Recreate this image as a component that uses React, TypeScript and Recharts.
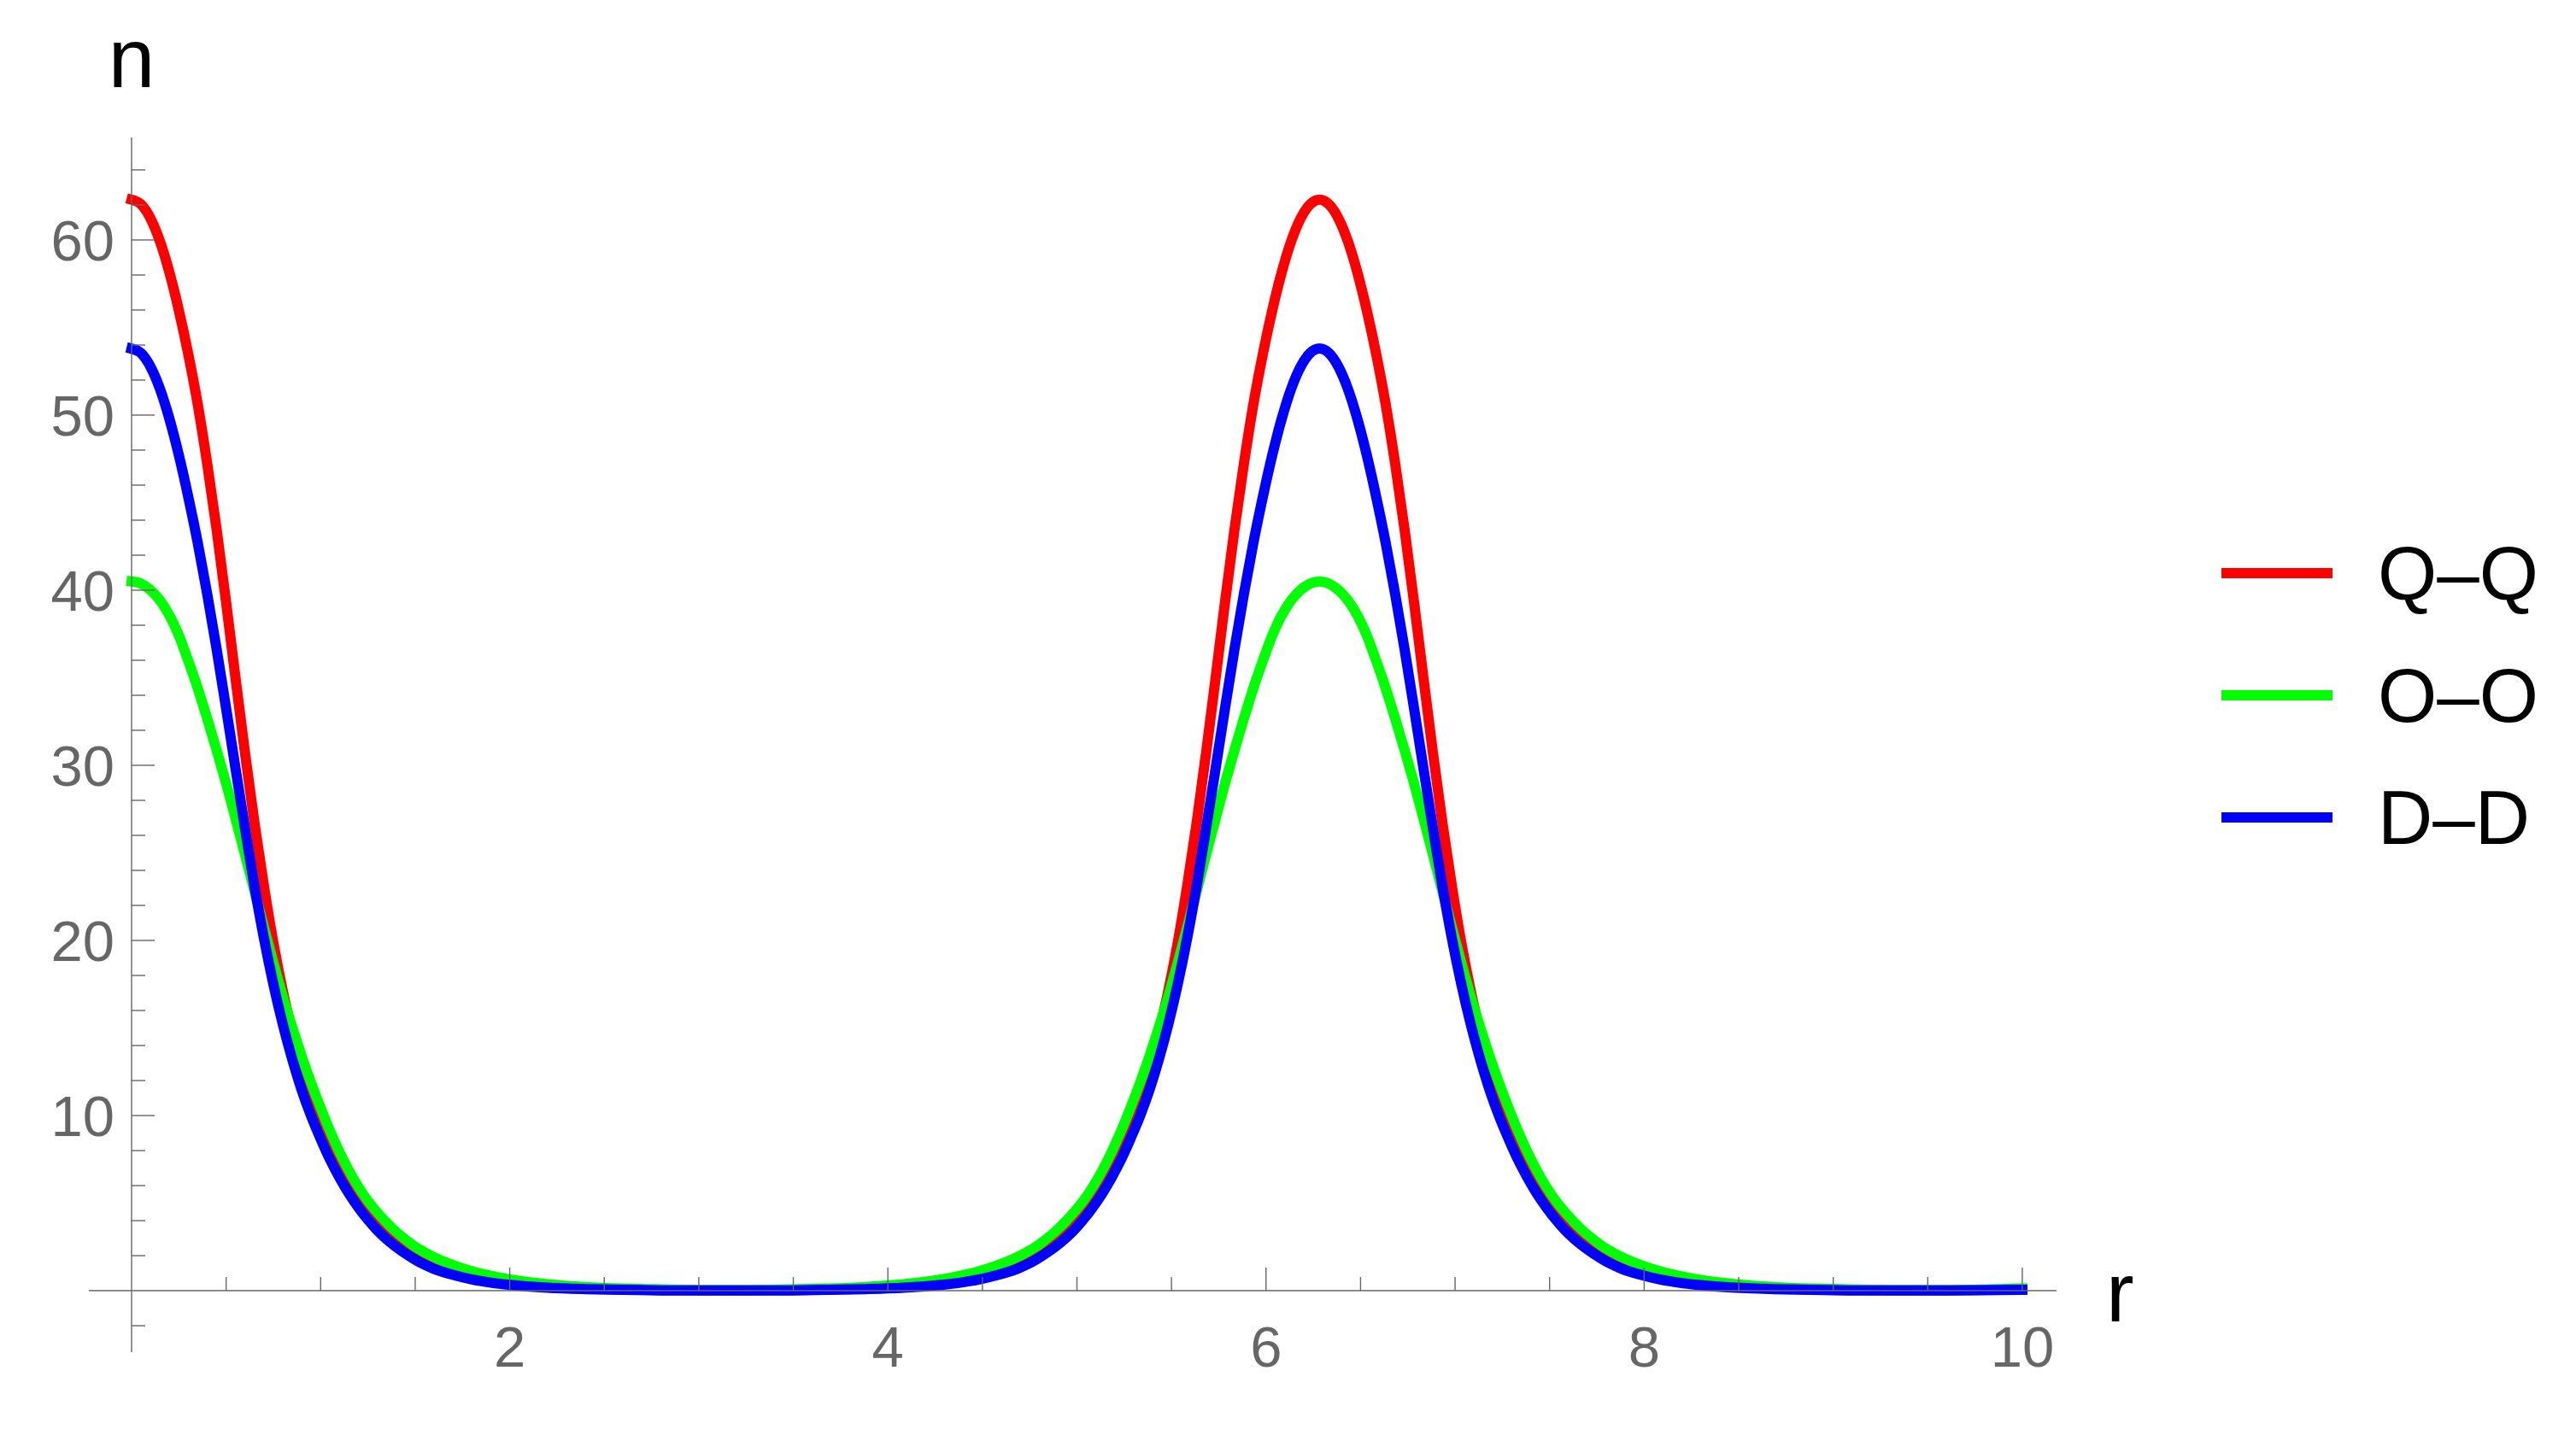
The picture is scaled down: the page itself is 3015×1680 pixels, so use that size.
import React from 'react';
import { LineChart, Line, XAxis, YAxis, ReferenceLine, Legend } from 'recharts';

// ---------- data ----------
const rValues = [
  0, 0.05, 0.1, 0.15, 0.2, 0.25, 0.3, 0.35, 0.4, 0.45, 0.5, 0.55, 0.6, 0.65, 0.7, 0.75, 0.8, 0.85, 0.9, 0.95, 1.0,
  1.05, 1.1, 1.15, 1.2, 1.25, 1.3, 1.35, 1.4, 1.45, 1.5, 1.55, 1.6, 1.7, 1.8, 1.9, 2.0, 2.2, 2.4, 2.6, 2.8, 3.0, 3.142,
  3.283, 3.483, 3.683, 3.883, 4.083, 4.283, 4.383, 4.483, 4.583, 4.683, 4.733, 4.783, 4.833, 4.883, 4.933, 4.983,
  5.033, 5.083, 5.133, 5.183, 5.233, 5.283, 5.333, 5.383, 5.433, 5.483, 5.533, 5.583, 5.633, 5.683, 5.733, 5.783,
  5.833, 5.883, 5.933, 5.983, 6.033, 6.083, 6.133, 6.183, 6.233, 6.283,
  6.333, 6.383, 6.433, 6.483, 6.533, 6.583, 6.633, 6.683, 6.733, 6.783, 6.833, 6.883, 6.933, 6.983, 7.033, 7.083,
  7.133, 7.183, 7.233, 7.283, 7.333, 7.383, 7.433, 7.483, 7.533, 7.583, 7.633, 7.683, 7.733, 7.783, 7.833, 7.883,
  7.983, 8.083, 8.183, 8.283, 8.483, 8.683, 8.883, 9.083, 9.283, 9.425, 9.6, 10.0,
];

const qqValues = [
  62.3, 62.03, 61.23, 59.92, 58.15, 55.98, 53.47, 50.61, 47.22, 43.45, 39.3, 34.95, 30.7, 26.7, 23.1, 19.85, 17.1, 14.75, 12.8, 11.15, 9.73,
  8.38, 7.18, 6.13, 5.22, 4.43, 3.76, 3.19, 2.71, 2.3, 1.95, 1.65, 1.4, 1.01, 0.73, 0.53, 0.38, 0.2, 0.11, 0.06, 0.03, 0.02, 0.015,
  0.02, 0.03, 0.06, 0.11, 0.2, 0.38, 0.53, 0.73, 1.01, 1.4, 1.65, 1.95, 2.3, 2.71, 3.19, 3.76,
  4.43, 5.22, 6.13, 7.18, 8.38, 9.73, 11.15, 12.8, 14.75, 17.1, 19.85, 23.1, 26.7, 30.7, 34.95, 39.3,
  43.45, 47.22, 50.61, 53.47, 55.98, 58.15, 59.92, 61.23, 62.03, 62.3,
  62.03, 61.23, 59.92, 58.15, 55.98, 53.47, 50.61, 47.22, 43.45, 39.3, 34.95, 30.7, 26.7, 23.1, 19.85, 17.1,
  14.75, 12.8, 11.15, 9.73, 8.38, 7.18, 6.13, 5.22, 4.43, 3.76, 3.19, 2.71, 2.3, 1.95, 1.65, 1.4,
  1.01, 0.73, 0.53, 0.38, 0.2, 0.11, 0.06, 0.03, 0.02, 0.015, 0.02, 0.065,
];

const ooValues = [
  40.5, 40.38, 40.01, 39.42, 38.57, 37.41, 35.96, 34.4, 32.67, 30.86, 28.97, 26.95, 24.9, 22.81, 20.74, 18.72, 16.8, 15.03, 13.37, 11.84, 10.43,
  9.1, 7.9, 6.84, 5.91, 5.12, 4.46, 3.87, 3.35, 2.9, 2.5, 2.19, 1.91, 1.46, 1.11, 0.85, 0.64, 0.37, 0.21, 0.12, 0.07, 0.04, 0.035,
  0.04, 0.07, 0.12, 0.21, 0.37, 0.64, 0.85, 1.11, 1.46, 1.91, 2.19, 2.5, 2.9, 3.35, 3.87, 4.46,
  5.12, 5.91, 6.84, 7.9, 9.1, 10.43, 11.84, 13.37, 15.03, 16.8, 18.72, 20.74, 22.81, 24.9, 26.95, 28.97,
  30.86, 32.67, 34.4, 35.96, 37.41, 38.57, 39.42, 40.01, 40.38, 40.5,
  40.38, 40.01, 39.42, 38.57, 37.41, 35.96, 34.4, 32.67, 30.86, 28.97, 26.95, 24.9, 22.81, 20.74, 18.72, 16.8,
  15.03, 13.37, 11.84, 10.43, 9.1, 7.9, 6.84, 5.91, 5.12, 4.46, 3.87, 3.35, 2.9, 2.5, 2.19, 1.91,
  1.46, 1.11, 0.85, 0.64, 0.37, 0.21, 0.12, 0.07, 0.04, 0.035, 0.04, 0.13,
];

const ddValues = [
  53.8, 53.54, 52.76, 51.5, 49.79, 47.71, 45.32, 42.7, 39.78, 36.62, 33.25, 29.8, 26.4, 23.1, 20.13, 17.5, 15.2, 13.2, 11.45, 9.96, 8.67,
  7.48, 6.45, 5.54, 4.75, 4.05, 3.44, 2.93, 2.49, 2.11, 1.77, 1.48, 1.24, 0.9, 0.64, 0.46, 0.33, 0.17, 0.09, 0.045, 0.02, 0.01, 0.01,
  0.01, 0.02, 0.045, 0.09, 0.17, 0.33, 0.46, 0.64, 0.9, 1.24, 1.48, 1.77, 2.11, 2.49, 2.93, 3.44,
  4.05, 4.75, 5.54, 6.45, 7.48, 8.67, 9.96, 11.45, 13.2, 15.2, 17.5, 20.13, 23.1, 26.4, 29.8, 33.25,
  36.62, 39.78, 42.7, 45.32, 47.71, 49.79, 51.5, 52.76, 53.54, 53.8,
  53.54, 52.76, 51.5, 49.79, 47.71, 45.32, 42.7, 39.78, 36.62, 33.25, 29.8, 26.4, 23.1, 20.13, 17.5, 15.2,
  13.2, 11.45, 9.96, 8.67, 7.48, 6.45, 5.54, 4.75, 4.05, 3.44, 2.93, 2.49, 2.11, 1.77, 1.48, 1.24,
  0.9, 0.64, 0.46, 0.33, 0.17, 0.09, 0.045, 0.02, 0.01, 0.01, 0.01, 0.05,
];

const seriesNames = ['Q–Q', 'O–O', 'D–D'];
const seriesKeys = ['qq', 'oo', 'dd'];
const seriesColors = ['#ff0000', '#00ff00', '#0000ff'];

const xMajorTicks = [2, 4, 6, 8, 10];
const xMinorTicks = [0.5, 1, 1.5, 2.5, 3, 3.5, 4.5, 5, 5.5, 6.5, 7, 7.5, 8.5, 9, 9.5];
const yMajorTicks = [10, 20, 30, 40, 50, 60];
const yMinorTicks = [-2, 2, 4, 6, 8, 12, 14, 16, 18, 22, 24, 26, 28, 32, 34, 36, 38, 42, 44, 46, 48, 52, 54, 56, 58, 62, 64];

const xAxisName = 'r';
const yAxisName = 'n';

const data = rValues.map((r, i) => ({ r, qq: qqValues[i], oo: ooValues[i], dd: ddValues[i] }));

// ---------- layout ----------
const W = 3015;
const H = 1680;
const PLOT_LEFT = 104;
const PLOT_RIGHT = 2407;
const PLOT_TOP = 161;
const PLOT_BOTTOM = 1583;
const X_DOMAIN: [number, number] = [-0.226, 10.181];
const Y_DOMAIN: [number, number] = [-3.51, 65.85];
const X_PX = (PLOT_RIGHT - PLOT_LEFT) / (X_DOMAIN[1] - X_DOMAIN[0]);
const Y_PX = (PLOT_BOTTOM - PLOT_TOP) / (Y_DOMAIN[1] - Y_DOMAIN[0]);
const ZERO_X_PX = PLOT_LEFT + (0 - X_DOMAIN[0]) * X_PX;
const ZERO_Y_PX = PLOT_TOP + (Y_DOMAIN[1] - 0) * Y_PX;

const AXIS_COLOR = '#666666';
const AXIS_W = 1.4;
const MAJOR_LEN = 27;
const MINOR_LEN = 16;
const FONT = '"Liberation Sans", Arial, Helvetica, sans-serif';
const TICK_FONT = 67;

const XTick = (props: any) => {
  const { x, payload } = props;
  return (
    <text x={x} y={ZERO_Y_PX + 89} textAnchor="middle" fontSize={TICK_FONT} fill={AXIS_COLOR} fontFamily={FONT}>
      {payload.value}
    </text>
  );
};

const YTick = (props: any) => {
  const { y, payload } = props;
  return (
    <text x={ZERO_X_PX - 20} y={y + 24} textAnchor="end" fontSize={TICK_FONT} fill={AXIS_COLOR} fontFamily={FONT}>
      {payload.value}
    </text>
  );
};

const AxisName = (props: any) => (
  <text x={props.px} y={props.py} textAnchor={props.anchor} fontSize={98} fill="#000" fontFamily={FONT}>
    {props.text}
  </text>
);

const LegendBox = (props: any) => {
  const payload = [...(props.payload || [])].sort(
    (a: any, b: any) => seriesNames.indexOf(a.value) - seriesNames.indexOf(b.value)
  );
  return (
    <svg width={425} height={420} style={{ display: 'block' }}>
      {payload.map((p: any, i: number) => (
        <g key={i}>
          <line x1={10} x2={140} y1={61 + 143 * i} y2={61 + 143 * i} stroke={p.color} strokeWidth={12} />
          <text x={193} y={92 + 143 * i} fontSize={89} fill="#000" fontFamily={FONT}>
            {p.value}
          </text>
        </g>
      ))}
    </svg>
  );
};

export default function App() {
  return (
    <div style={{ position: 'absolute', left: 0, top: 0, width: W, height: H, background: '#fff' }}>
      <LineChart
        width={W}
        height={H}
        data={data}
        margin={{ top: PLOT_TOP, right: W - PLOT_RIGHT, bottom: 0, left: 0 }}
      >
        <XAxis
          dataKey="r"
          type="number"
          domain={X_DOMAIN}
          allowDataOverflow
          ticks={xMajorTicks}
          interval={0}
          axisLine={false}
          tickLine={false}
          height={H - PLOT_BOTTOM}
          tick={<XTick />}
          label={<AxisName text={xAxisName} px={2465} py={1547} anchor="start" />}
        />
        <YAxis
          type="number"
          domain={Y_DOMAIN}
          allowDataOverflow
          ticks={yMajorTicks}
          interval={0}
          axisLine={false}
          tickLine={false}
          width={PLOT_LEFT}
          tick={<YTick />}
          label={<AxisName text={yAxisName} px={ZERO_X_PX} py={102} anchor="middle" />}
        />
        {seriesKeys.map((k, i) => (
          <Line
            key={k}
            dataKey={k}
            name={seriesNames[i]}
            stroke={seriesColors[i]}
            strokeWidth={12}
            dot={false}
            activeDot={false}
            type="monotone"
            strokeLinecap="square"
            strokeLinejoin="round"
            isAnimationActive={false}
          />
        ))}
        <ReferenceLine y={0} stroke={AXIS_COLOR} strokeWidth={AXIS_W} />
        <ReferenceLine x={0} stroke={AXIS_COLOR} strokeWidth={AXIS_W} />
        {xMajorTicks.map((t) => (
          <ReferenceLine key={'xM' + t} segment={[{ x: t, y: 0 }, { x: t, y: MAJOR_LEN / Y_PX }]} stroke={AXIS_COLOR} strokeWidth={AXIS_W} />
        ))}
        {xMinorTicks.map((t) => (
          <ReferenceLine key={'xm' + t} segment={[{ x: t, y: 0 }, { x: t, y: MINOR_LEN / Y_PX }]} stroke={AXIS_COLOR} strokeWidth={AXIS_W} />
        ))}
        {yMajorTicks.map((t) => (
          <ReferenceLine key={'yM' + t} segment={[{ x: 0, y: t }, { x: MAJOR_LEN / X_PX, y: t }]} stroke={AXIS_COLOR} strokeWidth={AXIS_W} />
        ))}
        {yMinorTicks.map((t) => (
          <ReferenceLine key={'ym' + t} segment={[{ x: 0, y: t }, { x: MINOR_LEN / X_PX, y: t }]} stroke={AXIS_COLOR} strokeWidth={AXIS_W} />
        ))}
        <Legend
          layout="vertical"
          align="center"
          verticalAlign="middle"
          content={<LegendBox />}
          wrapperStyle={{ position: 'absolute', left: 2590, top: 610, width: 425, height: 420 }}
        />
      </LineChart>
    </div>
  );
}
